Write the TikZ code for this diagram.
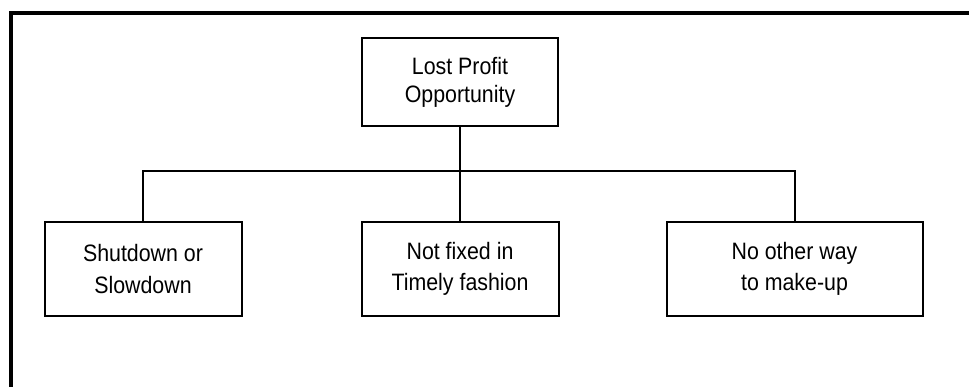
\documentclass[tikz,border=0pt]{standalone}
\usepackage{fontspec}
\setmainfont{Liberation Sans}[FakeStretch=0.9]
\usetikzlibrary{positioning}

\begin{document}
\begin{tikzpicture}[
    x=0.75pt, y=-0.75pt,
    font=\fontsize{17.8}{23.5}\selectfont,
    box/.style={draw, line width=1.5pt, align=center, inner sep=0pt,
                minimum width=147.75pt, minimum height=70.5pt},
    topbox/.style={box, minimum width=147pt, minimum height=66pt,
                   font=\fontsize{17.8}{21}\selectfont},
    widebox/.style={box, minimum width=192pt},
    link/.style={line width=1.5pt},
    frame/.style={line width=2.4pt},
  ]
\useasboundingbox (0,0) rectangle (969,386);

% outer frame, only top and left edges show
\draw[frame] (980,13) -- (11,13) -- (11,400);

\node[topbox] (lost) at (460,82) {Lost Profit\\Opportunity};

\node[box, below=70.5pt of lost] (fixed) {Not fixed in\\Timely fashion};
\node[box, left=88.5pt of fixed] (shut) {Shutdown or\\Slowdown};
\node[widebox, right=79.5pt of fixed] (makeup) {No other way\\to make-up};

\draw[link] (lost.south) -- ++(0,44) coordinate (bar);
\draw[link] (shut.north) |- (bar) -| (makeup.north);
\draw[link] (bar) -- (fixed.north);

\end{tikzpicture}
\end{document}
